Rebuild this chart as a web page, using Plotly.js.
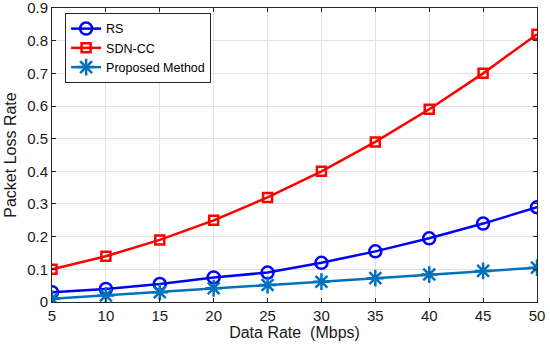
<!DOCTYPE html>
<html><head><meta charset="utf-8">
<script src="https://cdn.plot.ly/plotly-3.0.1.min.js"></script>
<style>html,body{margin:0;padding:0;background:#fff}#chart{width:550px;height:344px}</style>
</head><body><div id="chart"></div>
<script>
var dataRate = [5,10,15,20,25,30,35,40,45,50];
var rs = [0.03,0.04,0.055,0.075,0.09,0.12,0.155,0.195,0.24,0.29];
var sdncc = [0.10,0.14,0.19,0.25,0.32,0.40,0.49,0.59,0.70,0.82];
var proposed = [0.01,0.02,0.03,0.042,0.052,0.062,0.073,0.084,0.095,0.105];
var xTicks = [5,10,15,20,25,30,35,40,45,50];
var yTicks = [0,0.1,0.2,0.3,0.4,0.5,0.6,0.7,0.8,0.9];
var yTickText = ['0','0.1','0.2','0.3','0.4','0.5','0.6','0.7','0.8','0.9'];

var traces = [
 {x:dataRate,y:rs,name:'RS',mode:'lines+markers',line:{color:'#0000ff',width:2.5},
  marker:{symbol:'circle-open',size:12,color:'#0000ff',line:{width:2.5,color:'#0000ff'}}},
 {x:dataRate,y:sdncc,name:'SDN-CC',mode:'lines+markers',line:{color:'#ff0000',width:2.5},
  marker:{symbol:'square-open',size:9,color:'#ff0000',line:{width:2.5,color:'#ff0000'}}},
 {x:dataRate,y:proposed,name:'Proposed Method',mode:'lines+markers',line:{color:'#0072BD',width:2.5},
  marker:{symbol:'asterisk-open',size:14,color:'#0072BD',line:{width:2.5,color:'#0072BD'}}}
];
var ff = 'Liberation Sans, Arial, sans-serif';
var axisFont = {family:ff,size:15,color:'#1a1a1a'};
var layout = {
 width:550,height:344,
 margin:{l:52,r:13,t:8,b:42},
 paper_bgcolor:'#fff',plot_bgcolor:'#fff',
 showlegend:true,
 legend:{x:0.027,y:0.983,xanchor:'left',yanchor:'top',bgcolor:'#fff',bordercolor:'#262626',borderwidth:1,
   font:{family:ff,size:12.5,color:'#000'},tracegroupgap:0,itemwidth:30},
 xaxis:{range:[4.999,50.001],tickvals:xTicks,ticktext:xTicks.map(String),tickfont:axisFont,
   ticklabeloverflow:'allow',
   showgrid:true,gridcolor:'#e3e3e3',ticks:'inside',ticklen:4,tickcolor:'#262626',
   showline:true,linecolor:'#262626',linewidth:1,mirror:'ticks',zeroline:false,
   title:{text:'Data Rate  (Mbps)',font:{family:ff,size:16,color:'#1a1a1a'},standoff:2}},
 yaxis:{range:[-0.0001,0.9001],tickvals:yTicks,ticktext:yTickText,tickfont:axisFont,
   ticklabeloverflow:'allow',
   showgrid:true,gridcolor:'#e3e3e3',ticks:'inside',ticklen:4,tickcolor:'#262626',
   showline:true,linecolor:'#262626',linewidth:1,mirror:'ticks',zeroline:false,
   title:{text:'Packet Loss Rate',font:{family:ff,size:16,color:'#1a1a1a'},standoff:6}}
};
Plotly.newPlot('chart',traces,layout,{displayModeBar:false,staticPlot:true});
</script></body></html>
